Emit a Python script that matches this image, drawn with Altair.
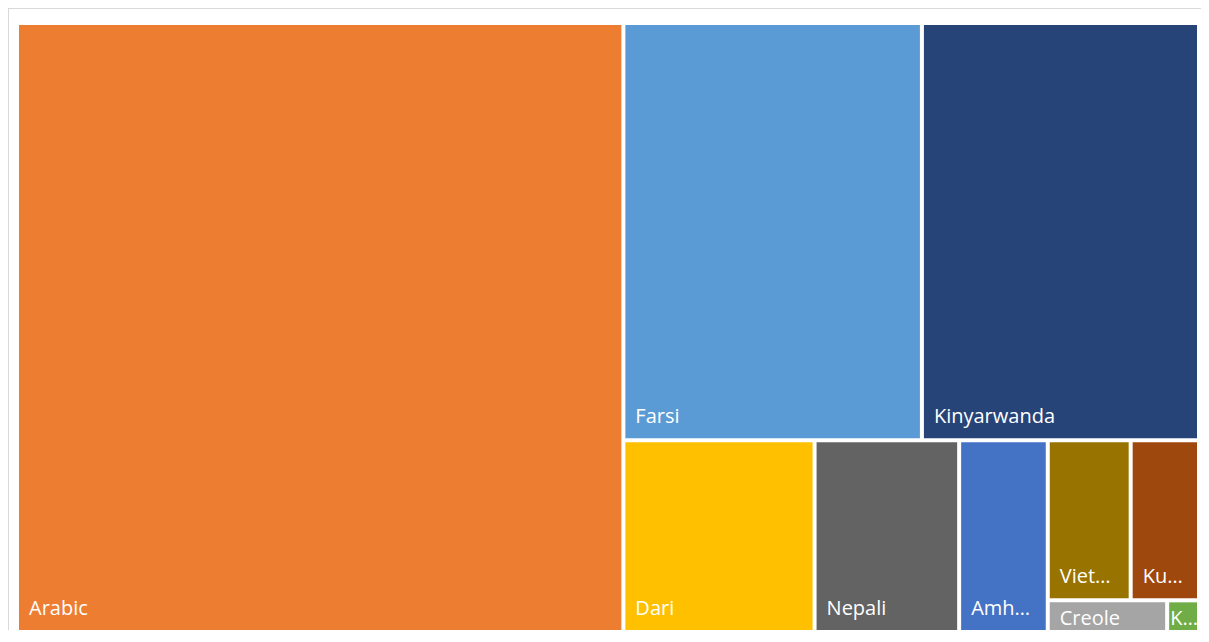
import altair as alt
import pandas as pd

# ---- data ----
labels = ["Arabic", "Farsi", "Kinyarwanda", "Dari", "Nepali", "Amh…", "Viet…", "Ku…", "Creole", "K…"]
values = [413, 140, 129, 41, 31, 19, 15, 12, 4, 1]
colors = ["#ED7D31", "#5B9BD5", "#264478", "#FFC000", "#636363",
          "#4472C4", "#997300", "#9E480E", "#A5A5A5", "#70AD47"]

# nesting of the treemap strips (indices into the lists above)
tree = ("h", [0, ("v", [("h", [1, 2]),
                         ("h", [3, 4, 5, ("v", [("h", [6, 7]), ("h", [8, 9])])])])])

W, H = 1178, 605   # plot area in layout units (1 unit = 1 px)
GAP = 2            # half of the white gap between tiles

def total(node):
    if isinstance(node, int):
        return values[node]
    return sum(total(c) for c in node[1])

rects = {}
def layout(node, x0, y0, x1, y1):
    if isinstance(node, int):
        rects[node] = (x0, y0, x1, y1)
        return
    kind, children = node
    s = total(node)
    pos = x0 if kind == "h" else y0
    for c in children:
        frac = total(c) / s
        if kind == "h":
            nxt = pos + frac * (x1 - x0)
            layout(c, pos, y0, nxt, y1)
        else:
            nxt = pos + frac * (y1 - y0)
            layout(c, x0, pos, x1, nxt)
        pos = nxt

layout(tree, 0, 0, W, H)

def inset(a, lo, hi, sign):
    # shrink only edges that are shared with a neighbour
    return a if (abs(a - lo) < 1e-6 or abs(a - hi) < 1e-6) else a + sign * GAP

rows = []
for i, lab in enumerate(labels):
    x0, y0, x1, y1 = rects[i]
    vx0, vx1 = inset(x0, 0, W, 1), inset(x1, 0, W, -1)
    vy0, vy1 = inset(y0, 0, H, 1), inset(y1, 0, H, -1)
    w, h = vx1 - vx0, vy1 - vy0
    padx = 10 if w > 40 else 1
    pady = 15 if h > 40 else 5
    rows.append(dict(label=lab, value=values[i], x=vx0, x2=vx1, y=vy0, y2=vy1,
                     lx=vx0 + padx, ly=vy1 - pady))
df = pd.DataFrame(rows)

xs = alt.Scale(domain=[0, W], nice=False, zero=False)
ys = alt.Scale(domain=[0, H], nice=False, zero=False, reverse=True)
cs = alt.Scale(domain=labels, range=colors)

base = alt.Chart(df)
tiles = base.mark_rect().encode(
    x=alt.X("x:Q", scale=xs, axis=None),
    x2="x2:Q",
    y=alt.Y("y:Q", scale=ys, axis=None),
    y2="y2:Q",
    color=alt.Color("label:N", scale=cs, legend=None),
)
texts = base.mark_text(align="left", baseline="alphabetic", font="Open Sans",
                       fontSize=20, color="white").encode(
    x=alt.X("lx:Q", scale=xs, axis=None),
    y=alt.Y("ly:Q", scale=ys, axis=None),
    text="label:N",
)

frame_df = pd.DataFrame({"k": [0]})
top_line = alt.Chart(frame_df).mark_rule(color="#D9D9D9", strokeWidth=1).encode(
    x=alt.value(-11), x2=alt.value(1182), y=alt.value(-16.5))
left_line = alt.Chart(frame_df).mark_rule(color="#D9D9D9", strokeWidth=1).encode(
    x=alt.value(-10.5), y=alt.value(-16.5), y2=alt.value(605))

chart = alt.layer(top_line, left_line, tiles, texts).properties(
    width=W, height=H,
    padding={"left": 11, "top": 17, "right": 4, "bottom": 0},
    autosize=alt.AutoSizeParams(type="none"),
    background="white",
).configure_view(stroke=None)

chart.save("out.html", embed_options={"renderer": "svg", "actions": False})
